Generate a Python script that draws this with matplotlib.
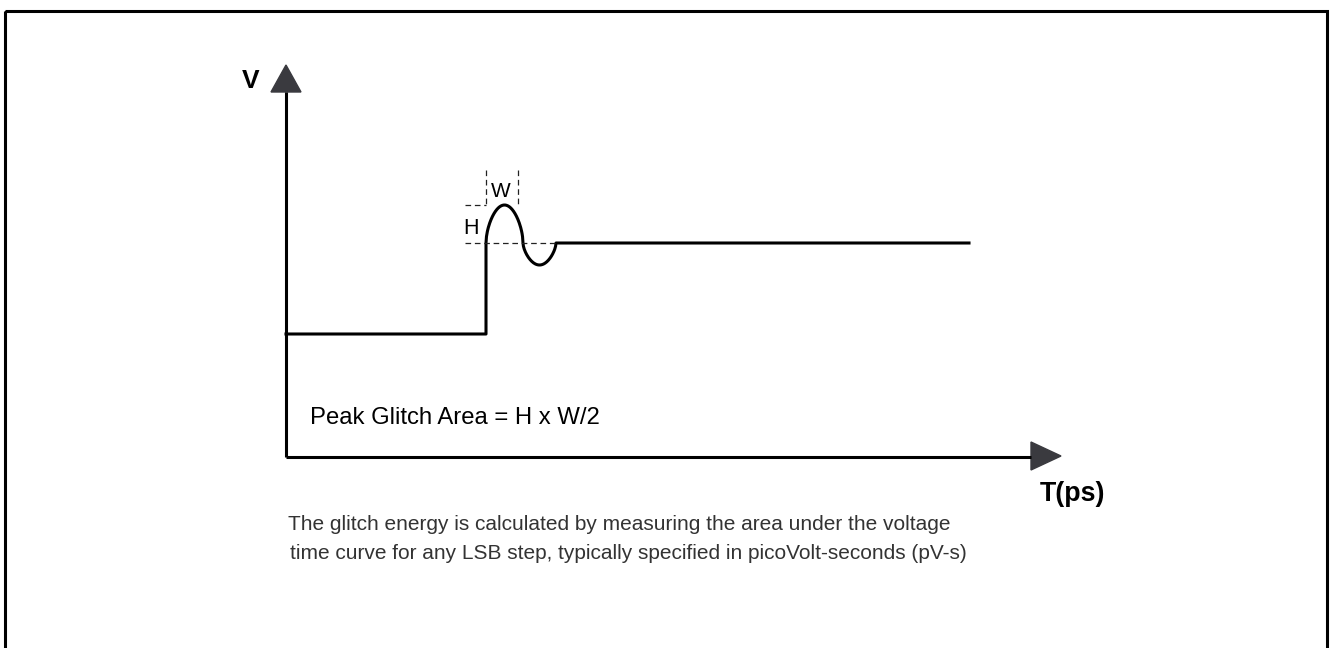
import numpy as np
import matplotlib
matplotlib.use("Agg")
import matplotlib.pyplot as plt
from matplotlib.patches import Polygon, Rectangle

plt.rcParams['font.family'] = ['Liberation Sans', 'DejaVu Sans']

# ---- diagram geometry (pixel-like coordinates, y downward) ----
origin = (286, 457)
v_axis_top = 92          # base of the V arrow head
v_arrow_tip = 65
t_axis_right = 1031      # base of the T arrow head
t_arrow_tip = 1061

low_level = 334
high_level = 243
step_x = 486
peak_level = 205
peak_end_x = 523
trough_level = 265
trough_end_x = 556
end_x = 969

labels_axes = ["V", "T(ps)"]
formula_text = "Peak Glitch Area = H x W/2"
caption_lines = [
    "The glitch energy is calculated by measuring the area under the voltage",
    "time curve for any LSB step, typically specified in picoVolt-seconds (pV-s)",
]

W, H = 1335, 648
fig = plt.figure(figsize=(W / 100, H / 100), dpi=100)
ax = fig.add_axes([0, 0, 1, 1])
ax.set_xlim(0, W)
ax.set_ylim(H, 0)
ax.axis('off')

# border
ax.add_patch(Rectangle((5, 11), 1322, 650, fill=False, lw=2.2, ec='black'))

ax_col = '#000000'
head_col = '#3a3a3f'
# axes
ax.plot([origin[0], origin[0]], [origin[1], v_axis_top], color=ax_col, lw=2.2, solid_capstyle='butt')
ax.plot([origin[0], t_axis_right], [origin[1], origin[1]], color=ax_col, lw=2.2, solid_capstyle='butt')
ax.add_patch(Polygon([(271, v_axis_top), (301, v_axis_top), (origin[0], v_arrow_tip)], closed=True,
                     fc=head_col, ec=head_col))
ax.add_patch(Polygon([(t_axis_right, 442), (t_axis_right, 470), (t_arrow_tip, origin[1] - 1)], closed=True,
                     fc=head_col, ec=head_col))

# waveform
t1 = np.linspace(0, 1, 80)
bump_x = step_x + (peak_end_x - step_x) * t1
bump_y = high_level - (high_level - peak_level) * np.sin(np.pi * t1) ** 0.55
trough_x = peak_end_x + (trough_end_x - peak_end_x) * t1
trough_y = high_level + (trough_level - high_level) * np.sin(np.pi * t1) ** 0.6

xs = np.concatenate([[origin[0], step_x, step_x], bump_x, trough_x, [end_x]])
ys = np.concatenate([[low_level, low_level, high_level], bump_y, trough_y, [high_level]])
ax.plot(xs, ys, color='black', lw=2.2, solid_joinstyle='round')

# dashed guides
dash = dict(color='#222222', lw=0.9, ls=(0, (4.5, 3)))
ax.plot([465, trough_end_x], [high_level, high_level], **dash)
ax.plot([465, step_x], [peak_level, peak_level], **dash)
ax.plot([step_x, step_x], [170, peak_level], **dash)
ax.plot([518, 518], [170, peak_level], **dash)

ax.text(501, 197, "W", fontsize=15, ha='center', va='baseline')
ax.text(471, 234, "H", fontsize=15.5, ha='center', va='baseline')

# axis labels
ax.text(251, 88, labels_axes[0], fontsize=19, fontweight='bold', ha='center', va='baseline')
ax.text(1072, 494, labels_axes[1], fontsize=19.3, fontweight='bold', ha='center', va='center')

ax.text(310, 424, formula_text, fontsize=17.2, ha='left', va='baseline')
ax.text(288, 530, caption_lines[0], fontsize=15, ha='left', va='baseline', color='#333333')
ax.text(290, 559, caption_lines[1], fontsize=15, ha='left', va='baseline', color='#333333')

fig.savefig('out.png', dpi=100)
